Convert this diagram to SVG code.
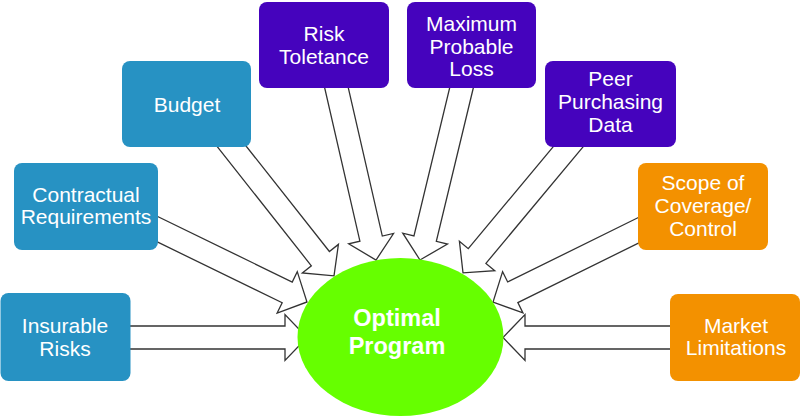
<svg xmlns="http://www.w3.org/2000/svg" width="800" height="416" viewBox="0 0 800 416">
<style>
.blue{fill:#2792c3}
.purple{fill:#4503bd}
.orange{fill:#f39100}
.arrow{fill:#ffffff;stroke:#333333;stroke-width:1.3;stroke-linejoin:miter}
.t{font-family:"Liberation Sans",Arial,Helvetica,sans-serif;font-size:21px;fill:#ffffff;text-anchor:middle}
.c{font-family:"Liberation Sans",Arial,Helvetica,sans-serif;font-size:23.5px;font-weight:bold;fill:#ffffff;text-anchor:middle}
</style>
<rect width="800" height="416" fill="#ffffff"/>
<g id="connectors">
<polygon class="arrow" transform="translate(120,337.5)" points="0,-11.5 165,-11.5 165,-23 187,0 165,23 165,11.5 0,11.5"/>
<polygon class="arrow" transform="translate(680,337.5) rotate(180)" points="0,-11.5 155,-11.5 155,-23 177,0 155,23 155,11.5 0,11.5"/>
<polygon class="arrow" transform="translate(149,225.1) rotate(25.95)" points="0,-11.5 153.7,-11.5 153.7,-23 175.7,0 153.7,23 153.7,11.5 0,11.5"/>
<polygon class="arrow" transform="translate(649,225.1) rotate(153.75)" points="0,-11.5 151.9,-11.5 151.9,-23 173.9,0 151.9,23 151.9,11.5 0,11.5"/>
<polygon class="arrow" transform="translate(224.3,137) rotate(51.7)" points="0,-11.5 155,-11.5 155,-23 177,0 155,23 155,11.5 0,11.5"/>
<polygon class="arrow" transform="translate(576.5,136.7) rotate(129.8)" points="0,-11.5 155.3,-11.5 155.3,-23 177.3,0 155.3,23 155.3,11.5 0,11.5"/>
<polygon class="arrow" transform="translate(334.3,78.3) rotate(77.07)" points="0,-11.5 164.5,-11.5 164.5,-23 186.5,0 164.5,23 164.5,11.5 0,11.5"/>
<polygon class="arrow" transform="translate(463.8,78.3) rotate(103.56)" points="0,-11.5 164.9,-11.5 164.9,-23 186.9,0 164.9,23 164.9,11.5 0,11.5"/>
</g>
<g id="insurable-risks">
<rect class="blue" x="0.5" y="293" width="130" height="88" rx="8"/>
<text class="t" x="65" y="333">Insurable</text>
<text class="t" x="65" y="356">Risks</text>
</g>
<g id="contractual-requirements">
<rect class="blue" x="14" y="163" width="144" height="87" rx="8"/>
<text class="t" x="86" y="202">Contractual</text>
<text class="t" x="86" y="224">Requirements</text>
</g>
<g id="budget">
<rect class="blue" x="122" y="61" width="129" height="86" rx="8"/>
<text class="t" x="187" y="111.5">Budget</text>
</g>
<g id="risk-toletance">
<rect class="purple" x="259" y="2" width="130" height="86" rx="8"/>
<text class="t" x="324" y="41">Risk</text>
<text class="t" x="324" y="63.5">Toletance</text>
</g>
<g id="maximum-probable-loss">
<rect class="purple" x="407" y="2" width="129" height="86" rx="8"/>
<text class="t" x="471.5" y="31">Maximum</text>
<text class="t" x="471.5" y="53.5">Probable</text>
<text class="t" x="471.5" y="76">Loss</text>
</g>
<g id="peer-purchasing-data">
<rect class="purple" x="545" y="61" width="131" height="86" rx="8"/>
<text class="t" x="610.5" y="86">Peer</text>
<text class="t" x="610.5" y="109">Purchasing</text>
<text class="t" x="610.5" y="131.5">Data</text>
</g>
<g id="scope-of-coverage">
<rect class="orange" x="638" y="163" width="130" height="87" rx="8"/>
<text class="t" x="703" y="190">Scope of</text>
<text class="t" x="703" y="213">Coverage/</text>
<text class="t" x="703" y="236">Control</text>
</g>
<g id="market-limitations">
<rect class="orange" x="670" y="294" width="130" height="87" rx="8"/>
<text class="t" x="736" y="333">Market</text>
<text class="t" x="736" y="355">Limitations</text>
</g>
<g id="optimal-program">
<ellipse cx="400.5" cy="337" rx="103" ry="79" fill="#66ff00"/>
<text class="c" x="397" y="326">Optimal</text>
<text class="c" x="397" y="354">Program</text>
</g>
</svg>
